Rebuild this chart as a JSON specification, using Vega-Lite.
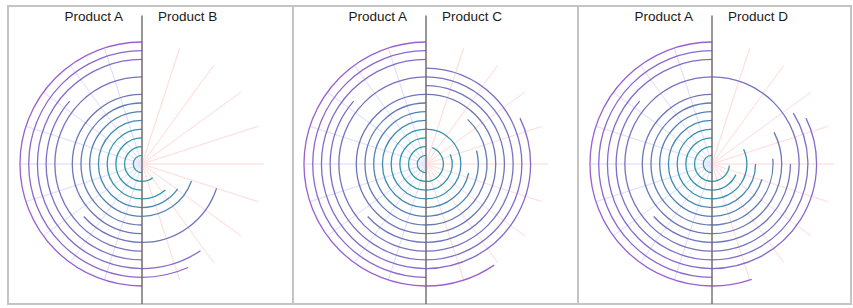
{
  "$schema": "https://vega.github.io/schema/vega-lite/v6.json",
  "padding": {"left": 7, "top": 5, "right": 0, "bottom": 0},
  "bounds": "flush",
  "spacing": 0,
  "config": {"view": {"stroke": "#c4c4c4", "strokeWidth": 2}, "text": {"font": "Liberation Sans"}},
  "datasets": {
    "one": [{"k": 1}],
    "grid": [{"g": 0}, {"g": 18}, {"g": 36}, {"g": 54}, {"g": 72}, {"g": 90}, {"g": 108}, {"g": 126}, {"g": 144}, {"g": 162}, {"g": 180}],
    "A": [{"ring": 1, "v": 180}, {"ring": 2, "v": 180}, {"ring": 3, "v": 180}, {"ring": 4, "v": 180}, {"ring": 5, "v": 180}, {"ring": 6, "v": 180}, {"ring": 7, "v": 180}, {"ring": 8, "v": 180}, {"ring": 9, "v": 48}, {"ring": 10, "v": 180}, {"ring": 11, "v": 131}, {"ring": 12, "v": 180}, {"ring": 13, "v": 180}, {"ring": 14, "v": 180}],
    "B": [{"ring": 2, "v": 38}, {"ring": 4, "v": 42}, {"ring": 5, "v": 55}, {"ring": 6, "v": 71}, {"ring": 9, "v": 72}, {"ring": 12, "v": 34}, {"ring": 13, "v": 24}],
    "C": [{"ring": 2, "v": 159}, {"ring": 3, "v": 112}, {"ring": 4, "v": 180}, {"ring": 5, "v": 78}, {"ring": 6, "v": 105}, {"ring": 7, "v": 137}, {"ring": 8, "v": 180}, {"ring": 9, "v": 180}, {"ring": 10, "v": 180}, {"ring": 11, "v": 180}, {"ring": 12, "v": 116}, {"ring": 14, "v": 34}],
    "D": [{"ring": 2, "v": 85}, {"ring": 3, "v": 66}, {"ring": 4, "v": 115}, {"ring": 5, "v": 90}, {"ring": 6, "v": 73}, {"ring": 7, "v": 95}, {"ring": 8, "v": 117}, {"ring": 9, "v": 90}, {"ring": 10, "v": 180}, {"ring": 11, "v": 122}, {"ring": 12, "v": 116}, {"ring": 14, "v": 19}]
  },
  "hconcat": [
    {
      "width": 285, "height": 298,
      "resolve": {"scale": {"theta": "independent"}},
      "layer": [
        {"data": {"name": "grid"}, "mark": {"type": "arc", "filled": false, "stroke": "#e3e3ff", "strokeWidth": 1},
         "encoding": {
           "x": {"datum": 0, "type": "quantitative", "scale": {"domain": [-134, 151], "nice": false, "zero": false}, "axis": null},
           "y": {"datum": 0, "type": "quantitative", "scale": {"domain": [-140, 158], "nice": false, "zero": false}, "axis": null},
           "theta": {"field": "g", "type": "quantitative", "stack": null, "scale": {"domain": [0, 180], "range": [3.14159265, 6.28318531]}},
           "theta2": {"field": "g"},
           "radius": {"datum": 14, "type": "quantitative", "scale": {"type": "linear", "domain": [0, 14], "range": [0, 122], "zero": true}},
           "radius2": {"datum": 0}
         }},
        {"data": {"name": "grid"}, "mark": {"type": "arc", "filled": false, "stroke": "#ffe1e1", "strokeWidth": 1},
         "encoding": {
           "x": {"datum": 0, "type": "quantitative"},
           "y": {"datum": 0, "type": "quantitative"},
           "theta": {"field": "g", "type": "quantitative", "stack": null, "scale": {"domain": [0, 180], "range": [3.14159265, 0]}},
           "theta2": {"field": "g"},
           "radius": {"datum": 14, "type": "quantitative"},
           "radius2": {"datum": 0}
         }},
        {"data": {"name": "A"}, "mark": {"type": "arc", "filled": false, "strokeWidth": 1.3},
         "encoding": {
           "x": {"datum": 0, "type": "quantitative"},
           "y": {"datum": 0, "type": "quantitative"},
           "theta": {"field": "v", "type": "quantitative", "stack": null, "scale": {"domain": [0, 180], "range": [3.14159265, 6.28318531]}},
           "theta2": {"datum": 0},
           "radius": {"field": "ring", "type": "quantitative"},
           "radius2": {"field": "ring"},
           "color": {"field": "ring", "type": "quantitative", "scale": {"domain": [1, 7.5, 14], "range": ["#3a9f97", "#6c78b0", "#9a60d0"]}, "legend": null}
         }},
        {"data": {"name": "B"}, "mark": {"type": "arc", "filled": false, "strokeWidth": 1.3},
         "encoding": {
           "x": {"datum": 0, "type": "quantitative"},
           "y": {"datum": 0, "type": "quantitative"},
           "theta": {"field": "v", "type": "quantitative", "stack": null, "scale": {"domain": [0, 180], "range": [3.14159265, 0]}},
           "theta2": {"datum": 0},
           "radius": {"field": "ring", "type": "quantitative"},
           "radius2": {"field": "ring"},
           "color": {"field": "ring", "type": "quantitative", "legend": null}
         }},
        {"data": {"name": "one"}, "mark": {"type": "rule", "color": "#6b6b6b", "strokeWidth": 1.4},
         "encoding": {"x": {"datum": 0, "type": "quantitative"}, "y": {"datum": 148.5, "type": "quantitative"}, "y2": {"datum": -140}}},
        {"data": {"name": "one"}, "mark": {"type": "text", "align": "right", "baseline": "alphabetic", "dx": -19, "fontSize": 13.5, "color": "#1a1a1a"},
         "encoding": {"x": {"datum": 0, "type": "quantitative"}, "y": {"datum": 142.8, "type": "quantitative"}, "text": {"value": "Product A"}}},
        {"data": {"name": "one"}, "mark": {"type": "text", "align": "left", "baseline": "alphabetic", "dx": 16, "fontSize": 13.5, "color": "#1a1a1a"},
         "encoding": {"x": {"datum": 0, "type": "quantitative"}, "y": {"datum": 142.8, "type": "quantitative"}, "text": {"value": "Product B"}}}
      ]
    },
    {
      "width": 285, "height": 298,
      "resolve": {"scale": {"theta": "independent"}},
      "layer": [
        {"data": {"name": "grid"}, "mark": {"type": "arc", "filled": false, "stroke": "#e3e3ff", "strokeWidth": 1},
         "encoding": {
           "x": {"datum": 0, "type": "quantitative", "scale": {"domain": [-133, 152], "nice": false, "zero": false}, "axis": null},
           "y": {"datum": 0, "type": "quantitative", "scale": {"domain": [-140, 158], "nice": false, "zero": false}, "axis": null},
           "theta": {"field": "g", "type": "quantitative", "stack": null, "scale": {"domain": [0, 180], "range": [3.14159265, 6.28318531]}},
           "theta2": {"field": "g"},
           "radius": {"datum": 14, "type": "quantitative", "scale": {"type": "linear", "domain": [0, 14], "range": [0, 122], "zero": true}},
           "radius2": {"datum": 0}
         }},
        {"data": {"name": "grid"}, "mark": {"type": "arc", "filled": false, "stroke": "#ffe1e1", "strokeWidth": 1},
         "encoding": {
           "x": {"datum": 0, "type": "quantitative"},
           "y": {"datum": 0, "type": "quantitative"},
           "theta": {"field": "g", "type": "quantitative", "stack": null, "scale": {"domain": [0, 180], "range": [3.14159265, 0]}},
           "theta2": {"field": "g"},
           "radius": {"datum": 14, "type": "quantitative"},
           "radius2": {"datum": 0}
         }},
        {"data": {"name": "A"}, "mark": {"type": "arc", "filled": false, "strokeWidth": 1.3},
         "encoding": {
           "x": {"datum": 0, "type": "quantitative"},
           "y": {"datum": 0, "type": "quantitative"},
           "theta": {"field": "v", "type": "quantitative", "stack": null, "scale": {"domain": [0, 180], "range": [3.14159265, 6.28318531]}},
           "theta2": {"datum": 0},
           "radius": {"field": "ring", "type": "quantitative"},
           "radius2": {"field": "ring"},
           "color": {"field": "ring", "type": "quantitative", "scale": {"domain": [1, 7.5, 14], "range": ["#3a9f97", "#6c78b0", "#9a60d0"]}, "legend": null}
         }},
        {"data": {"name": "C"}, "mark": {"type": "arc", "filled": false, "strokeWidth": 1.3},
         "encoding": {
           "x": {"datum": 0, "type": "quantitative"},
           "y": {"datum": 0, "type": "quantitative"},
           "theta": {"field": "v", "type": "quantitative", "stack": null, "scale": {"domain": [0, 180], "range": [3.14159265, 0]}},
           "theta2": {"datum": 0},
           "radius": {"field": "ring", "type": "quantitative"},
           "radius2": {"field": "ring"},
           "color": {"field": "ring", "type": "quantitative", "legend": null}
         }},
        {"data": {"name": "one"}, "mark": {"type": "rule", "color": "#6b6b6b", "strokeWidth": 1.4},
         "encoding": {"x": {"datum": 0, "type": "quantitative"}, "y": {"datum": 148.5, "type": "quantitative"}, "y2": {"datum": -140}}},
        {"data": {"name": "one"}, "mark": {"type": "text", "align": "right", "baseline": "alphabetic", "dx": -19, "fontSize": 13.5, "color": "#1a1a1a"},
         "encoding": {"x": {"datum": 0, "type": "quantitative"}, "y": {"datum": 142.8, "type": "quantitative"}, "text": {"value": "Product A"}}},
        {"data": {"name": "one"}, "mark": {"type": "text", "align": "left", "baseline": "alphabetic", "dx": 16, "fontSize": 13.5, "color": "#1a1a1a"},
         "encoding": {"x": {"datum": 0, "type": "quantitative"}, "y": {"datum": 142.8, "type": "quantitative"}, "text": {"value": "Product C"}}}
      ]
    },
    {
      "width": 273, "height": 298,
      "resolve": {"scale": {"theta": "independent"}},
      "layer": [
        {"data": {"name": "grid"}, "mark": {"type": "arc", "filled": false, "stroke": "#e3e3ff", "strokeWidth": 1},
         "encoding": {
           "x": {"datum": 0, "type": "quantitative", "scale": {"domain": [-134, 139], "nice": false, "zero": false}, "axis": null},
           "y": {"datum": 0, "type": "quantitative", "scale": {"domain": [-140, 158], "nice": false, "zero": false}, "axis": null},
           "theta": {"field": "g", "type": "quantitative", "stack": null, "scale": {"domain": [0, 180], "range": [3.14159265, 6.28318531]}},
           "theta2": {"field": "g"},
           "radius": {"datum": 14, "type": "quantitative", "scale": {"type": "linear", "domain": [0, 14], "range": [0, 122], "zero": true}},
           "radius2": {"datum": 0}
         }},
        {"data": {"name": "grid"}, "mark": {"type": "arc", "filled": false, "stroke": "#ffe1e1", "strokeWidth": 1},
         "encoding": {
           "x": {"datum": 0, "type": "quantitative"},
           "y": {"datum": 0, "type": "quantitative"},
           "theta": {"field": "g", "type": "quantitative", "stack": null, "scale": {"domain": [0, 180], "range": [3.14159265, 0]}},
           "theta2": {"field": "g"},
           "radius": {"datum": 14, "type": "quantitative"},
           "radius2": {"datum": 0}
         }},
        {"data": {"name": "A"}, "mark": {"type": "arc", "filled": false, "strokeWidth": 1.3},
         "encoding": {
           "x": {"datum": 0, "type": "quantitative"},
           "y": {"datum": 0, "type": "quantitative"},
           "theta": {"field": "v", "type": "quantitative", "stack": null, "scale": {"domain": [0, 180], "range": [3.14159265, 6.28318531]}},
           "theta2": {"datum": 0},
           "radius": {"field": "ring", "type": "quantitative"},
           "radius2": {"field": "ring"},
           "color": {"field": "ring", "type": "quantitative", "scale": {"domain": [1, 7.5, 14], "range": ["#3a9f97", "#6c78b0", "#9a60d0"]}, "legend": null}
         }},
        {"data": {"name": "D"}, "mark": {"type": "arc", "filled": false, "strokeWidth": 1.3},
         "encoding": {
           "x": {"datum": 0, "type": "quantitative"},
           "y": {"datum": 0, "type": "quantitative"},
           "theta": {"field": "v", "type": "quantitative", "stack": null, "scale": {"domain": [0, 180], "range": [3.14159265, 0]}},
           "theta2": {"datum": 0},
           "radius": {"field": "ring", "type": "quantitative"},
           "radius2": {"field": "ring"},
           "color": {"field": "ring", "type": "quantitative", "legend": null}
         }},
        {"data": {"name": "one"}, "mark": {"type": "rule", "color": "#6b6b6b", "strokeWidth": 1.4},
         "encoding": {"x": {"datum": 0, "type": "quantitative"}, "y": {"datum": 148.5, "type": "quantitative"}, "y2": {"datum": -140}}},
        {"data": {"name": "one"}, "mark": {"type": "text", "align": "right", "baseline": "alphabetic", "dx": -19, "fontSize": 13.5, "color": "#1a1a1a"},
         "encoding": {"x": {"datum": 0, "type": "quantitative"}, "y": {"datum": 142.8, "type": "quantitative"}, "text": {"value": "Product A"}}},
        {"data": {"name": "one"}, "mark": {"type": "text", "align": "left", "baseline": "alphabetic", "dx": 16, "fontSize": 13.5, "color": "#1a1a1a"},
         "encoding": {"x": {"datum": 0, "type": "quantitative"}, "y": {"datum": 142.8, "type": "quantitative"}, "text": {"value": "Product D"}}}
      ]
    }
  ]
}
